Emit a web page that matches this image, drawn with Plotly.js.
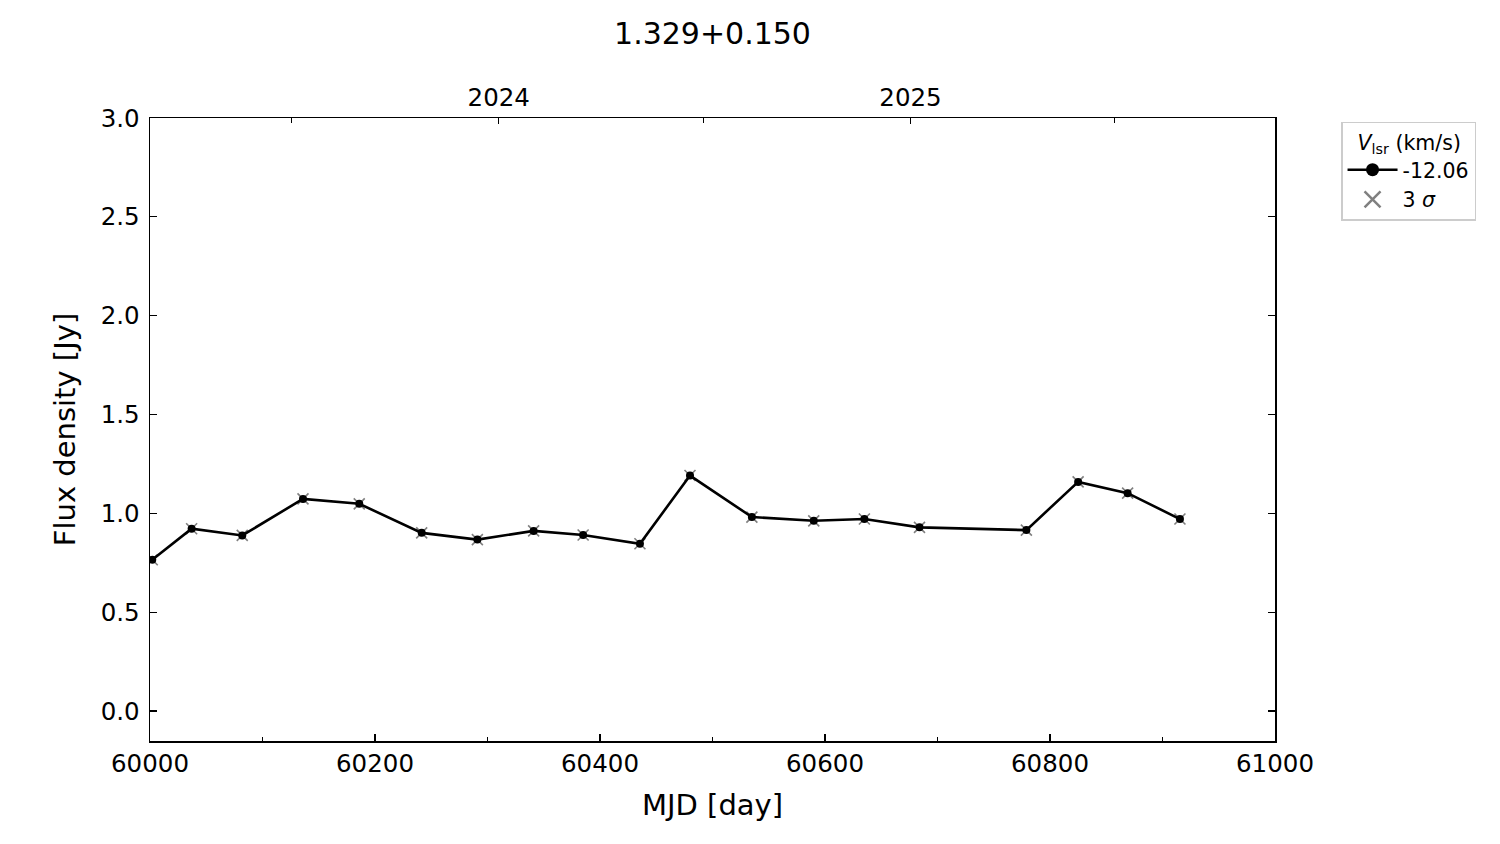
<!DOCTYPE html>
<html>
<head>
<meta charset="utf-8">
<script src="https://cdn.plot.ly/plotly-3.0.1.min.js"></script>
<style>html,body{margin:0;padding:0;background:#fff;}#chart{width:1500px;height:844px;}</style>
</head>
<body>
<div id="chart"></div>
<script>
// Observation epochs (MJD) and flux density (Jy) for Vlsr = -12.06 km/s
const mjd = [60002, 60037, 60082, 60136, 60186, 60241.5, 60291, 60341, 60385, 60435.5,
             60480, 60535, 60590, 60635, 60684, 60779, 60825, 60869, 60915.5];
const flux = [0.765, 0.922, 0.888, 1.073, 1.048, 0.901, 0.867, 0.911, 0.890, 0.846,
              1.191, 0.981, 0.962, 0.971, 0.929, 0.915, 1.159, 1.102, 0.971];
// 3 sigma markers at the same epochs
const sigmaMjd = mjd;
const sigmaFlux = flux;

const seriesName = "-12.06";
const sigmaName = "3 <i>σ</i>";
const chartTitle = "1.329+0.150";

// Top axis: calendar years
const yearMjd = [60310, 60676];
const yearLabels = ["2024", "2025"];
const halfYearMjd = [60126, 60492, 60857];

const font = "DejaVu Sans, Liberation Sans, sans-serif";

const traces = [
  {x: sigmaMjd, y: sigmaFlux, type: "scatter", mode: "markers", showlegend: false,
   marker: {symbol: "x-thin", size: 11, color: "#808080", line: {width: 1.6, color: "#808080"}},
   hoverinfo: "skip"},
  {x: mjd, y: flux, type: "scatter", mode: "lines+markers", showlegend: false,
   line: {color: "#000", width: 2.6},
   marker: {symbol: "circle", size: 8, color: "#000"}},
  // legend entries
  {x: [null], y: [null], type: "scatter", mode: "lines+markers", name: seriesName,
   line: {color: "#000", width: 2.6}, marker: {symbol: "circle", size: 13, color: "#000"}},
  {x: [null], y: [null], type: "scatter", mode: "markers", name: sigmaName,
   marker: {symbol: "x-thin", size: 16, color: "#808080", line: {width: 2.5, color: "#808080"}}},
  // dummy for top axis
  {x: [60000], y: [null], xaxis: "x2", yaxis: "y", showlegend: false, hoverinfo: "skip"}
];

const layout = {
  width: 1500, height: 844,
  paper_bgcolor: "#fff", plot_bgcolor: "#fff",
  font: {family: font, color: "#000", size: 24},
  margin: {l: 150, r: 225, t: 118, b: 103},
  title: {text: chartTitle, x: 0.475, xanchor: "center", y: 0.96, yanchor: "middle",
          font: {size: 30, family: font, color: "#000"}},
  showlegend: true,
  legend: {x: 1.0587, y: 0.994, xanchor: "left", yanchor: "top",
           bgcolor: "#fff", bordercolor: "#cccccc", borderwidth: 1.5,
           font: {size: 20.5, family: font, color: "#000"},
           title: {text: "&nbsp;&nbsp;<i>V</i><sub>lsr</sub> (km/s)&nbsp;", font: {size: 20.5, family: font}},
           itemwidth: 50, tracegroupgap: 0},
  xaxis: {
    range: [60000, 61000], tickmode: "linear", tick0: 60000, dtick: 200, tickformat: "d",
    ticks: "inside", ticklen: 7, tickwidth: 1.2, tickcolor: "#000",
    minor: {tickmode: "linear", tick0: 60000, dtick: 100, ticks: "inside", ticklen: 4.5, tickwidth: 1.2, tickcolor: "#000"},
    showline: true, linecolor: "#000", linewidth: 1.5, mirror: true,
    showgrid: false, zeroline: false, ticklabelstandoff: 0,
    tickfont: {size: 24.5, family: font},
    title: {text: "MJD [day]", font: {size: 29, family: font}, standoff: 18}
  },
  xaxis2: {
    overlaying: "x", side: "top", anchor: "y",
    range: [60000, 61000], tickmode: "array", tickvals: yearMjd, ticktext: yearLabels,
    ticks: "inside", ticklen: 6, tickwidth: 1.2, tickcolor: "#000",
    minor: {tickmode: "array", tickvals: halfYearMjd, ticks: "inside", ticklen: 4.5, tickwidth: 1.2, tickcolor: "#000"},
    showline: false, showgrid: false, zeroline: false, ticklabelstandoff: 6,
    tickfont: {size: 24.5, family: font}
  },
  yaxis: {
    range: [-0.152, 3.0], tickmode: "linear", tick0: 0, dtick: 0.5, tickformat: ".1f",
    ticks: "inside", ticklen: 7, tickwidth: 1.2, tickcolor: "#000",
    showline: true, linecolor: "#000", linewidth: 1.5, mirror: "ticks",
    showgrid: false, zeroline: false, ticklabelstandoff: 4,
    tickfont: {size: 24.5, family: font},
    title: {text: "Flux density [Jy]", font: {size: 29, family: font}, standoff: 16}
  }
};

Plotly.newPlot("chart", traces, layout, {displayModeBar: false, staticPlot: true});
</script>
</body>
</html>
